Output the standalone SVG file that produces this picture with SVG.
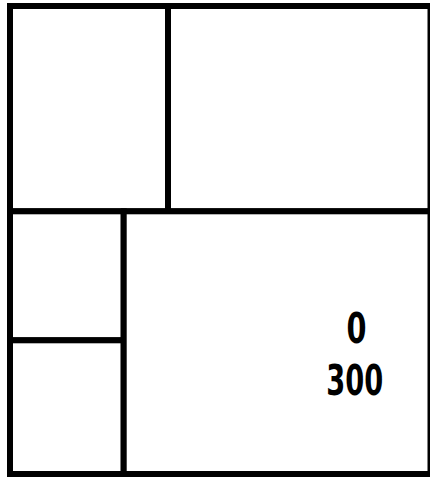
<svg xmlns="http://www.w3.org/2000/svg" width="430" height="477" viewBox="0 0 430 477">
<style>
.cell{fill:#fff;stroke:#000;stroke-width:6}
.lbl{font-family:"DejaVu Sans",sans-serif;font-weight:bold;font-size:43px;fill:#000;text-anchor:middle}
</style>
<rect x="0" y="0" width="430" height="477" fill="#fff"/>
<g id="cell-top-left"><rect class="cell" x="10" y="6" width="158" height="205.3"/></g>
<g id="cell-top-right"><rect class="cell" x="168" y="6" width="262.5" height="205.3"/></g>
<g id="cell-mid-left"><rect class="cell" x="10" y="211.3" width="113.7" height="129"/></g>
<g id="cell-bottom-left"><rect class="cell" x="10" y="340.3" width="113.7" height="133.7"/></g>
<g id="cell-bottom-right"><rect class="cell" x="123.7" y="211.3" width="306.8" height="262.7"/>
<text class="lbl" x="356.5" y="343.3" textLength="20" lengthAdjust="spacingAndGlyphs">0</text>
<text class="lbl" x="354.7" y="395" textLength="57" lengthAdjust="spacingAndGlyphs">300</text>
</g>
<g id="connectors"></g>
</svg>
